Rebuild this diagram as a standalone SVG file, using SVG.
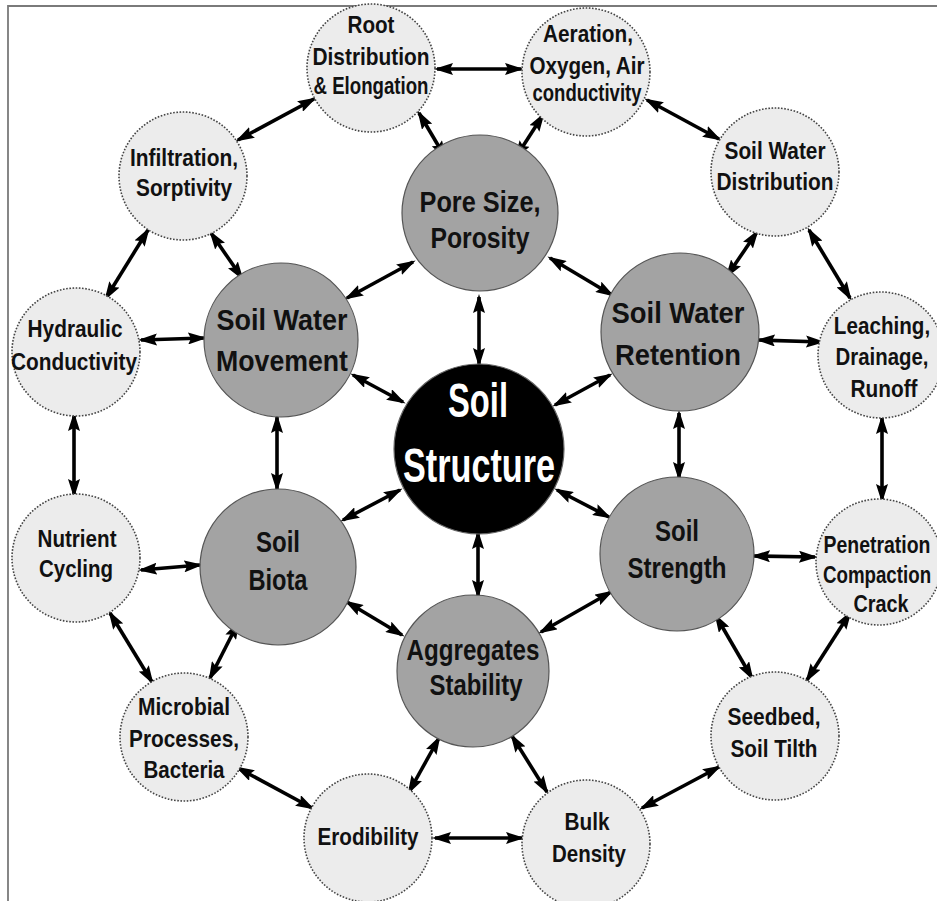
<svg xmlns="http://www.w3.org/2000/svg" width="937" height="901" viewBox="0 0 937 901">
<style>
.outer{fill:#ececec;stroke:#444;stroke-width:1.6;stroke-dasharray:1.6 1.6}
.inner{fill:#a3a3a3;stroke:#555;stroke-width:1.2}
.core{fill:#000;stroke:#666;stroke-width:1.2}
text{font-family:"Liberation Sans Narrow","Liberation Sans",Arial,sans-serif;font-weight:bold;text-anchor:middle;fill:#111}
.o{font-size:24px}
.i{font-size:30px}
.c{font-size:48px;fill:#fff}
.arr line{stroke:#000;stroke-width:3.6;marker-start:url(#ah);marker-end:url(#ah)}
</style>
<defs>
<marker id="ah" markerUnits="userSpaceOnUse" markerWidth="19" markerHeight="12" refX="16" refY="6" orient="auto-start-reverse" viewBox="0 0 19 12">
<path d="M0,0 L19,6 L0,12 L3,6 z" fill="#000"/>
</marker>
</defs>
<rect width="937" height="901" fill="#fff"/>
<path d="M8,901 V6 H937" fill="none" stroke="#7a7a7a" stroke-width="1.8"/>

<g id="connectors" class="arr">
<line x1="437" y1="69" x2="521" y2="69"/>
<line x1="314" y1="99" x2="238" y2="140"/>
<line x1="419" y1="113" x2="445" y2="157"/>
<line x1="543" y1="115" x2="516" y2="157"/>
<line x1="647" y1="100" x2="719" y2="139"/>
<line x1="757" y1="232" x2="727" y2="276"/>
<line x1="809" y1="230" x2="850" y2="298"/>
<line x1="148" y1="230" x2="106" y2="298"/>
<line x1="211" y1="233" x2="242" y2="278"/>
<line x1="413" y1="262" x2="347" y2="298"/>
<line x1="550" y1="258" x2="612" y2="295"/>
<line x1="479" y1="297" x2="479" y2="364"/>
<line x1="141" y1="340" x2="204" y2="338"/>
<line x1="759" y1="340" x2="822" y2="342"/>
<line x1="353" y1="375" x2="403" y2="402"/>
<line x1="610" y1="375" x2="555" y2="405"/>
<line x1="74" y1="415" x2="74" y2="495"/>
<line x1="277" y1="417" x2="277" y2="489"/>
<line x1="679" y1="413" x2="679" y2="478"/>
<line x1="882" y1="418" x2="882" y2="500"/>
<line x1="400" y1="490" x2="343" y2="520"/>
<line x1="557" y1="490" x2="609" y2="517"/>
<line x1="478" y1="533" x2="478" y2="596"/>
<line x1="141" y1="570" x2="200" y2="565"/>
<line x1="754" y1="556" x2="815" y2="557"/>
<line x1="110" y1="613" x2="152" y2="682"/>
<line x1="238" y1="623" x2="210" y2="678"/>
<line x1="347" y1="602" x2="402" y2="635"/>
<line x1="611" y1="592" x2="541" y2="632"/>
<line x1="716" y1="616" x2="752" y2="678"/>
<line x1="850" y1="613" x2="807" y2="680"/>
<line x1="238" y1="768" x2="312" y2="808"/>
<line x1="439" y1="738" x2="409" y2="792"/>
<line x1="512" y1="736" x2="547" y2="792"/>
<line x1="435" y1="838" x2="522" y2="838"/>
<line x1="719" y1="767" x2="642" y2="808"/>
</g>

<g id="root">
<circle class="outer" cx="371" cy="68" r="64"/>
<text class="o" x="371" y="33" textLength="47" lengthAdjust="spacingAndGlyphs">Root</text>
<text class="o" x="371" y="65" textLength="117" lengthAdjust="spacingAndGlyphs">Distribution</text>
<text class="o" x="371" y="94" textLength="115" lengthAdjust="spacingAndGlyphs">&amp; Elongation</text>
</g>
<g id="aeration">
<circle class="outer" cx="586" cy="72" r="64"/>
<text class="o" x="588" y="42" textLength="90" lengthAdjust="spacingAndGlyphs">Aeration,</text>
<text class="o" x="587" y="74" textLength="115" lengthAdjust="spacingAndGlyphs">Oxygen, Air</text>
<text class="o" x="587" y="101" textLength="109" lengthAdjust="spacingAndGlyphs">conductivity</text>
</g>
<g id="soil-water-distribution">
<circle class="outer" cx="775" cy="172" r="64"/>
<text class="o" x="775" y="159" textLength="101" lengthAdjust="spacingAndGlyphs">Soil Water</text>
<text class="o" x="775" y="190" textLength="117" lengthAdjust="spacingAndGlyphs">Distribution</text>
</g>
<g id="leaching">
<circle class="outer" cx="881" cy="355" r="63"/>
<text class="o" transform="translate(882,334) scale(0.86,1)">Leaching,</text>
<text class="o" transform="translate(882,365) scale(0.85,1)">Drainage,</text>
<text class="o" x="884" y="397" textLength="67" lengthAdjust="spacingAndGlyphs">Runoff</text>
</g>
<g id="penetration">
<circle class="outer" cx="879" cy="562" r="63"/>
<text class="o" transform="translate(877,553) scale(0.81,1)">Penetration</text>
<text class="o" transform="translate(877,583) scale(0.78,1)">Compaction</text>
<text class="o" x="881" y="612" textLength="55" lengthAdjust="spacingAndGlyphs">Crack</text>
</g>
<g id="seedbed">
<circle class="outer" cx="775" cy="736" r="64"/>
<text class="o" x="774" y="725" textLength="93" lengthAdjust="spacingAndGlyphs">Seedbed,</text>
<text class="o" x="774" y="757" textLength="87" lengthAdjust="spacingAndGlyphs">Soil Tilth</text>
</g>
<g id="bulk-density">
<circle class="outer" cx="586" cy="844" r="64"/>
<text class="o" x="587" y="830" textLength="45" lengthAdjust="spacingAndGlyphs">Bulk</text>
<text class="o" x="589" y="862" textLength="74" lengthAdjust="spacingAndGlyphs">Density</text>
</g>
<g id="erodibility">
<circle class="outer" cx="368" cy="838" r="64"/>
<text class="o" x="368" y="845" textLength="101" lengthAdjust="spacingAndGlyphs">Erodibility</text>
</g>
<g id="microbial">
<circle class="outer" cx="184" cy="737" r="64"/>
<text class="o" x="184" y="715" textLength="92" lengthAdjust="spacingAndGlyphs">Microbial</text>
<text class="o" x="184" y="747" textLength="110" lengthAdjust="spacingAndGlyphs">Processes,</text>
<text class="o" x="184" y="778" textLength="81" lengthAdjust="spacingAndGlyphs">Bacteria</text>
</g>
<g id="nutrient">
<circle class="outer" cx="76" cy="558" r="64"/>
<text class="o" x="77" y="547" textLength="79" lengthAdjust="spacingAndGlyphs">Nutrient</text>
<text class="o" x="76" y="577" textLength="74" lengthAdjust="spacingAndGlyphs">Cycling</text>
</g>
<g id="hydraulic">
<circle class="outer" cx="76" cy="352" r="64"/>
<text class="o" x="75" y="337" textLength="95" lengthAdjust="spacingAndGlyphs">Hydraulic</text>
<text class="o" x="74" y="370" textLength="126" lengthAdjust="spacingAndGlyphs">Conductivity</text>
</g>
<g id="infiltration">
<circle class="outer" cx="183" cy="176" r="64"/>
<text class="o" x="184" y="166" textLength="108" lengthAdjust="spacingAndGlyphs">Infiltration,</text>
<text class="o" x="184" y="196" textLength="96" lengthAdjust="spacingAndGlyphs">Sorptivity</text>
</g>

<g id="pore-size">
<circle class="inner" cx="480" cy="213" r="78"/>
<text class="i" x="480" y="212" textLength="121" lengthAdjust="spacingAndGlyphs">Pore Size,</text>
<text class="i" x="480" y="248" textLength="99" lengthAdjust="spacingAndGlyphs">Porosity</text>
</g>
<g id="soil-water-movement">
<circle class="inner" cx="281" cy="340" r="77"/>
<text class="i" x="282" y="330" textLength="131" lengthAdjust="spacingAndGlyphs">Soil Water</text>
<text class="i" x="282" y="371" textLength="132" lengthAdjust="spacingAndGlyphs">Movement</text>
</g>
<g id="soil-water-retention">
<circle class="inner" cx="680" cy="332" r="79"/>
<text class="i" x="678" y="323" textLength="133" lengthAdjust="spacingAndGlyphs">Soil Water</text>
<text class="i" x="678" y="365" textLength="126" lengthAdjust="spacingAndGlyphs">Retention</text>
</g>
<g id="soil-biota">
<circle class="inner" cx="278" cy="567" r="78"/>
<text class="i" x="278" y="552" textLength="44" lengthAdjust="spacingAndGlyphs">Soil</text>
<text class="i" x="278" y="590" textLength="59" lengthAdjust="spacingAndGlyphs">Biota</text>
</g>
<g id="soil-strength">
<circle class="inner" cx="677" cy="554" r="77"/>
<text class="i" x="677" y="541" textLength="44" lengthAdjust="spacingAndGlyphs">Soil</text>
<text class="i" x="677" y="578" textLength="99" lengthAdjust="spacingAndGlyphs">Strength</text>
</g>
<g id="aggregates-stability">
<circle class="inner" cx="473" cy="671" r="76"/>
<text class="i" x="473" y="660" textLength="133" lengthAdjust="spacingAndGlyphs">Aggregates</text>
<text class="i" x="476" y="695" textLength="93" lengthAdjust="spacingAndGlyphs">Stability</text>
</g>

<g id="soil-structure">
<circle class="core" cx="479" cy="449" r="85"/>
<text class="c" x="478" y="417" textLength="60" lengthAdjust="spacingAndGlyphs">Soil</text>
<text class="c" x="479" y="482" textLength="152" lengthAdjust="spacingAndGlyphs">Structure</text>
</g>
</svg>
